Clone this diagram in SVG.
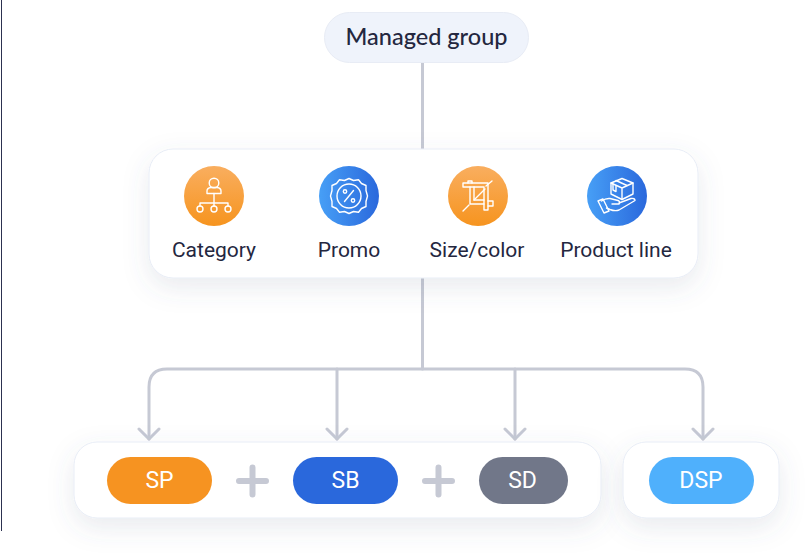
<svg xmlns="http://www.w3.org/2000/svg" width="805" height="553" viewBox="0 0 805 553">
<style>
.t{font-family:Roboto,"Liberation Sans",sans-serif;font-size:21px;fill:#24273f;text-anchor:middle}
.w{font-family:Roboto,"Liberation Sans",sans-serif;font-size:23px;fill:#fff;text-anchor:middle}
.c{fill:none;stroke:#c6c9d4;stroke-width:3;stroke-linecap:round;stroke-linejoin:round}
.i{fill:none;stroke:#fff;stroke-width:1.4;stroke-linejoin:round;stroke-linecap:round}
.p{fill:#fff;stroke:#e8edf6;stroke-width:1;filter:url(#sh)}
.plus{fill:none;stroke:#c6c9d4;stroke-width:6;stroke-linecap:round}
</style>
<defs>
<filter id="sh" x="-20%" y="-40%" width="140%" height="200%"><feDropShadow dx="0" dy="9" stdDeviation="13" flood-color="#5a6480" flood-opacity="0.13"/></filter>
<linearGradient id="or" x1="0" y1="0" x2="0" y2="1"><stop offset="0" stop-color="#f9ae5f"/><stop offset="1" stop-color="#f6941f"/></linearGradient>
<linearGradient id="bl" x1="0" y1="0" x2="1" y2="0"><stop offset="0" stop-color="#479ff6"/><stop offset="1" stop-color="#2a68dc"/></linearGradient>
</defs>
<rect x="0" y="0" width="805" height="553" fill="#fff"/>
<rect x="1" y="0" width="1" height="531" fill="#2c3150"/>
<g id="connectors" class="c">
<path d="M422.500 63V149M422.500 278V369"/>
<path d="M149 439V387Q149 369 167 369H685Q703 369 703 387V439"/>
<path d="M337 369V439M515 369V439"/>
<path d="M139 429L149 439L159 429M327 429L337 439L347 429M505 429L515 439L525 429M693 429L703 439L713 429"/>
</g>
<g id="managed-group">
<rect x="324.500" y="12.500" width="204" height="50" rx="25" fill="#eff3fb" stroke="#e8ecf5"/>
<text x="426.500" y="45" font-family="Lato,Inter,sans-serif" font-size="22.500" font-weight="500" fill="#24273f" text-anchor="middle" textLength="162" lengthAdjust="spacingAndGlyphs">Managed group</text>
</g>
<g id="attributes">
<rect class="p" x="149" y="149" width="549" height="129" rx="24"/>
</g>
<g id="category">
<circle cx="214" cy="196" r="30" fill="url(#or)"/>
<g class="i"><circle cx="214" cy="183" r="4.800"/><path d="M207 193.500V191Q207 188 211 187.500H217Q221 188 221 191V193.500Z"/><path d="M214 193.500V206M200 206V203H228V206"/><circle cx="200" cy="209" r="3"/><circle cx="214" cy="209" r="3"/><circle cx="228" cy="209" r="3"/></g>
<text class="t" x="214" y="257">Category</text>
</g>
<g id="promo">
<circle cx="349" cy="196" r="30" fill="url(#bl)"/>
<g class="i"><path d="M349 178.500L353.500 180.500L358.500 179.800L361.500 183.500L366 185.500L366 190.500L367.500 196L366 201.500L366 206.500L361.500 208.500L358.500 212.200L353.500 211.500L349 213.500L344.500 211.500L339.500 212.200L336.500 208.500L332 206.500L332 201.500L330.500 196L332 190.500L332 185.500L336.500 183.500L339.500 179.800L344.500 180.500Z"/><circle cx="349" cy="196" r="12"/><path d="M344.500 201.500L353.500 190.500"/><circle cx="345" cy="191.500" r="1.700"/><circle cx="353" cy="200.500" r="1.700"/></g>
<text class="t" x="349" y="257">Promo</text>
</g>
<g id="size-color">
<circle cx="478" cy="196" r="30" fill="url(#or)"/>
<g class="i" stroke-width="1.200"><path d="M463 187V183H488V210H484V187Z"/><path d="M470 187V204H484M474 187V200H484"/><path d="M474 200L485 189"/><path d="M468 183V181H472V183M488 201H493V206H488"/><path d="M486 186L492 181M463 211L469 205"/></g>
<text class="t" x="477" y="257">Size/color</text>
</g>
<g id="product-line">
<circle cx="617" cy="196" r="30" fill="url(#bl)"/>
<g class="i"><path d="M622 178.500L633 183V194L622 199.500L611 194V183Z"/><path d="M611 183L622 188L633 183M622 188V199.500"/><path d="M616 180.500L627 185.500M613 184V190L616 191.500V186"/>
<path d="M598 201L603 199L609 211L604 213Z"/><path d="M601.500 201Q606 198 610 198.500L618 200.500Q621 202 619 204L612 204M619 203L631 198.500Q635 198 635 200.500L619 210Q615 211.500 610 209.500L606.500 208"/></g>
<text class="t" x="616" y="257">Product line</text>
</g>
<g id="ad-types">
<rect class="p" x="74" y="442" width="527" height="76" rx="23"/>
</g>
<g id="sp">
<rect x="107" y="457" width="105" height="47" rx="23.500" fill="#f69321"/>
<text class="w" x="159.500" y="488">SP</text>
</g>
<g id="plus-1"><path class="plus" d="M239 481H266M252.500 467.500V494.500"/></g>
<g id="sb">
<rect x="293" y="457" width="105" height="47" rx="23.500" fill="#2a68dc"/>
<text class="w" x="345.500" y="488">SB</text>
</g>
<g id="plus-2"><path class="plus" d="M425 481H452M438.500 467.500V494.500"/></g>
<g id="sd">
<rect x="479" y="457" width="89" height="47" rx="23.500" fill="#717789"/>
<text class="w" x="522.500" y="488" font-size="21">SD</text>
</g>
<g id="dsp-panel">
<rect class="p" x="623" y="442" width="156" height="76" rx="23"/>
</g>
<g id="dsp">
<rect x="649" y="457" width="105" height="47" rx="23.500" fill="#4fb0fc"/>
<text class="w" x="701" y="488">DSP</text>
</g>
</svg>
